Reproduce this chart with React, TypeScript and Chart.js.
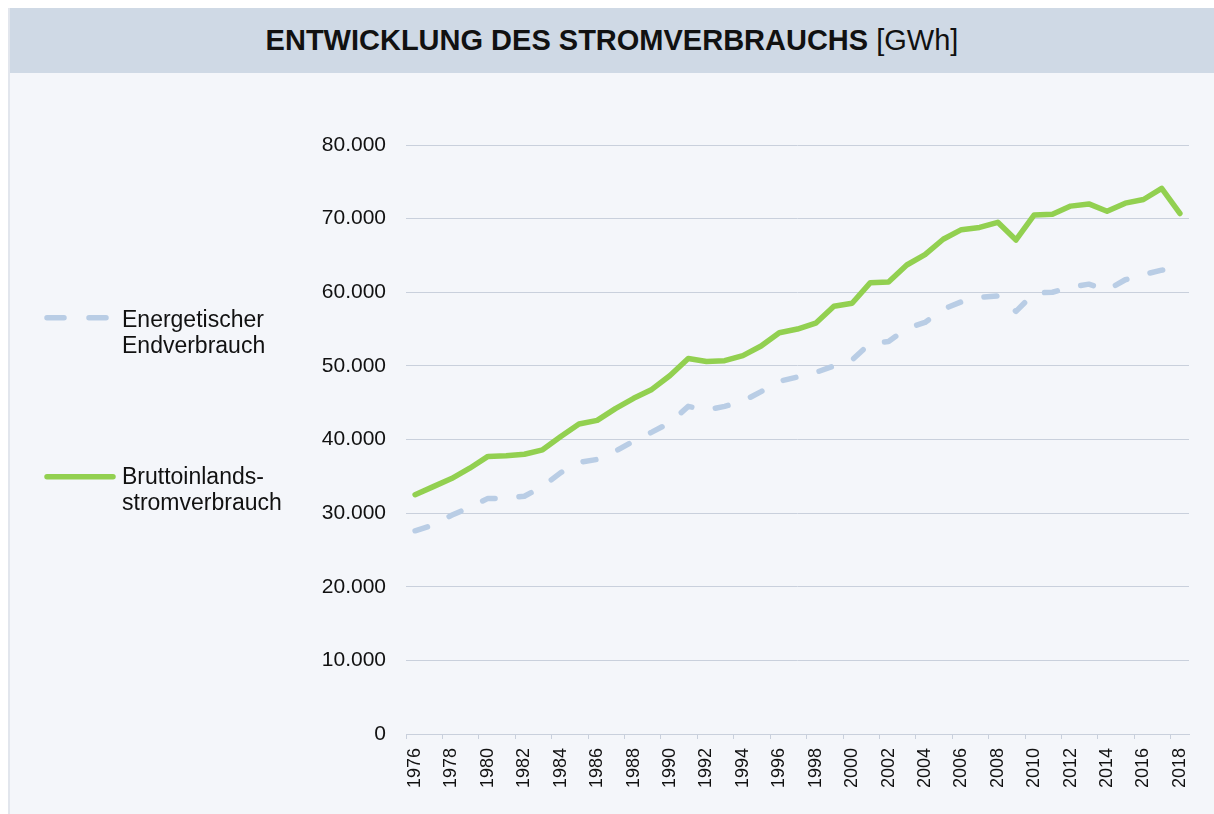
import React, { useEffect, useRef } from "react";
import { Chart, registerables } from "chart.js";

Chart.register(...registerables);

const years: string[] = [
  "1976","1977","1978","1979","1980","1981","1982","1983","1984","1985",
  "1986","1987","1988","1989","1990","1991","1992","1993","1994","1995",
  "1996","1997","1998","1999","2000","2001","2002","2003","2004","2005",
  "2006","2007","2008","2009","2010","2011","2012","2013","2014","2015",
  "2016","2017","2018",
];

const endverbrauch: number[] = [
  27600, 28400, 29700, 30800, 32000, 32000, 32300, 33600, 35500, 36900,
  37300, 38400, 39800, 41000, 42300, 44500, 44000, 44500, 45200, 46500,
  47900, 48500, 49100, 50000, 50800, 53100, 53300, 55100, 55900, 57700,
  58700, 59300, 59500, 57400, 59900, 60000, 60700, 61100, 60300, 61700,
  62400, 63000, 63200,
];

const brutto: number[] = [
  32500, 33600, 34700, 36100, 37700, 37800, 38000, 38600, 40400, 42100,
  42600, 44200, 45600, 46800, 48700, 51000, 50600, 50700, 51400, 52700,
  54500, 55000, 55800, 58100, 58500, 61300, 61400, 63700, 65100, 67200,
  68500, 68800, 69500, 67100, 70500, 70600, 71700, 72000, 71000, 72100,
  72600, 74100, 70700,
];

const legendEnd: string[] = ["Energetischer", "Endverbrauch"];
const legendBrutto: string[] = ["Bruttoinlands-", "stromverbrauch"];

const FONT = "'Liberation Sans', Arial, sans-serif";
const GREEN = "#92d050";
const BLUE = "#b9cde5";
const GRID = "#c9d0dc";
const TEXT = "#111111";

function fmt(v: number): string {
  return String(Math.round(v)).replace(/\B(?=(\d{3})+(?!\d))/g, ".");
}

const legendPlugin = {
  id: "sideLegend",
  afterDraw(chart: any) {
    const ctx = chart.ctx as CanvasRenderingContext2D;
    ctx.save();
    ctx.lineCap = "round";
    ctx.lineWidth = 5.5;
    ctx.strokeStyle = BLUE;
    ctx.beginPath();
    ctx.moveTo(39, 244.7);
    ctx.lineTo(56, 244.7);
    ctx.moveTo(81, 244.7);
    ctx.lineTo(98, 244.7);
    ctx.stroke();
    ctx.strokeStyle = GREEN;
    ctx.beginPath();
    ctx.moveTo(39, 403.7);
    ctx.lineTo(105, 403.7);
    ctx.stroke();
    ctx.fillStyle = TEXT;
    ctx.font = `23px ${FONT}`;
    ctx.textAlign = "left";
    ctx.textBaseline = "alphabetic";
    ctx.fillText(legendEnd[0], 114, 253.7);
    ctx.fillText(legendEnd[1], 114, 280.3);
    ctx.fillText(legendBrutto[0], 114, 411.3);
    ctx.fillText(legendBrutto[1], 114, 437);
    ctx.restore();
  },
};

export default function App() {
  const canvasRef = useRef<HTMLCanvasElement | null>(null);

  useEffect(() => {
    if (!canvasRef.current) return;
    const chart = new Chart(canvasRef.current, {
      type: "line",
      data: {
        labels: years,
        datasets: [
          {
            label: "Energetischer Endverbrauch",
            data: endverbrauch,
            borderColor: BLUE,
            backgroundColor: BLUE,
            borderWidth: 5.5,
            borderDash: [13, 24],
            borderCapStyle: "round",
            borderJoinStyle: "round",
            pointRadius: 0,
            tension: 0,
            fill: false,
          },
          {
            label: "Bruttoinlandsstromverbrauch",
            data: brutto,
            borderColor: GREEN,
            backgroundColor: GREEN,
            borderWidth: 5.5,
            borderCapStyle: "round",
            borderJoinStyle: "round",
            pointRadius: 0,
            tension: 0,
            fill: false,
          },
        ],
      },
      options: {
        animation: false,
        responsive: true,
        maintainAspectRatio: false,
        layout: { padding: { top: 72, right: 23, bottom: 0, left: 0 } },
        plugins: {
          legend: { display: false },
          tooltip: { enabled: false },
          title: { display: false },
        },
        scales: {
          x: {
            type: "category",
            offset: true,
            afterFit: (scale: any) => {
              scale.height = 80;
            },
            grid: {
              offset: true,
              drawOnChartArea: false,
              drawTicks: true,
              tickLength: 5,
              color: (c: any) =>
                c.type === "tick" && c.index % 2 === 0 ? GRID : "rgba(0,0,0,0)",
              tickColor: (c: any) =>
                c.type === "tick" && c.index % 2 === 0 ? GRID : "rgba(0,0,0,0)",
            },
            border: { display: true, color: GRID, width: 1 },
            ticks: {
              autoSkip: false,
              maxRotation: 90,
              minRotation: 90,
              padding: 9,
              color: TEXT,
              font: { family: FONT, size: 18 },
              callback: (_v: any, i: number) => (i % 2 === 0 ? years[i] : ""),
            },
          },
          y: {
            min: 0,
            max: 80000,
            afterFit: (scale: any) => {
              scale.width = 398;
            },
            grid: {
              color: GRID,
              drawTicks: false,
              lineWidth: 1,
            },
            border: { display: false },
            ticks: {
              stepSize: 10000,
              padding: 20,
              color: TEXT,
              font: { family: FONT, size: 21 },
              callback: (v: any) => fmt(Number(v)),
            },
          },
        },
      },
      plugins: [legendPlugin],
    } as any);
    return () => chart.destroy();
  }, []);

  return (
    <div
      style={{
        position: "fixed",
        left: 8,
        top: 8,
        width: 1206,
        height: 806,
        background: "#f4f6fa",
        boxSizing: "border-box",
        borderLeft: "2px solid #e2e6ed",
        fontFamily: FONT,
      }}
    >
      <div
        style={{
          height: 65,
          background: "#cfd9e5",
          display: "flex",
          alignItems: "center",
          justifyContent: "center",
          fontSize: 29,
          color: TEXT,
          whiteSpace: "nowrap",
        }}
      >
        <span>
          <b>ENTWICKLUNG DES STROMVERBRAUCHS</b> [GWh]
        </span>
      </div>
      <div style={{ position: "relative", width: 1204, height: 741, marginLeft: -2 }}>
        <canvas ref={canvasRef} />
      </div>
    </div>
  );
}
